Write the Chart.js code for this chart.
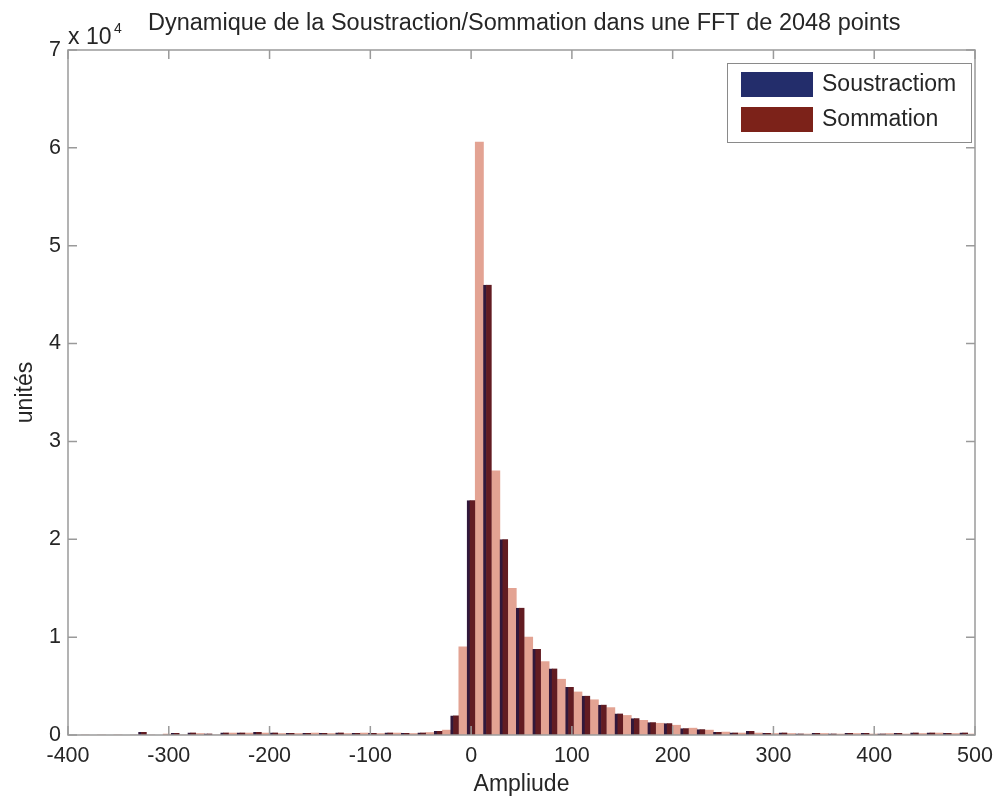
<!DOCTYPE html>
<html>
<head>
<meta charset="utf-8">
<script src="https://cdn.jsdelivr.net/npm/chart.js@4"></script>
<style>
  html, body { margin: 0; padding: 0; background: #fff; }
  #wrap { position: relative; width: 1007px; height: 798px; }
</style>
</head>
<body>
<div id="wrap"><canvas id="fftchart"></canvas></div>
<script>
// bin centres (amplitude) of the histogram groups
var binCenters = [
  -387.1, -370.8, -354.5, -338.2, -321.9, -305.6, -289.3, -273.0, -256.7, -240.4,
  -224.1, -207.8, -191.5, -175.2, -158.9, -142.6, -126.3, -110.0, -93.7, -77.4,
  -61.1, -44.8, -28.5, -12.2, 4.1, 20.4, 36.7, 53.0, 69.3, 85.6,
  101.9, 118.2, 134.5, 150.8, 167.1, 183.4, 199.7, 216.0, 232.3, 248.6,
  264.9, 281.2, 297.5, 313.8, 330.1, 346.4, 362.7, 379.0, 395.3, 411.6,
  427.9, 444.2, 460.5, 476.8, 493.1
];

// counts per bin
var soustractiom = [
  0, 0, 0, 0, 300, 0, 200, 250, 150, 250,
  250, 300, 250, 200, 200, 200, 250, 200, 200, 250,
  200, 250, 400, 2000, 24000, 46000, 20000, 13000, 8800, 6800,
  4900, 4000, 3100, 2200, 1700, 1300, 1200, 700, 600, 300,
  250, 400, 200, 250, 150, 200, 150, 200, 200, 150,
  200, 250, 250, 200, 250
];
var sommation = [
  0, 0, 0, 0, 0, 100, 0, 150, 0, 200,
  200, 200, 150, 150, 200, 150, 150, 200, 150, 200,
  150, 250, 500, 9000, 60600, 27000, 15000, 10000, 7500, 5700,
  4400, 3600, 2800, 2000, 1500, 1200, 1000, 700, 500, 300,
  200, 200, 150, 150, 100, 150, 100, 150, 100, 150,
  100, 150, 200, 150, 100
];

var seriesNames = ['Soustractiom', 'Sommation'];
var legendColors = ['#232d6b', '#7c2219'];
var xTicks = [-400, -300, -200, -100, 0, 100, 200, 300, 400, 500];
var chartTitle = 'Dynamique de la Soustraction/Sommation dans une FFT de 2048 points';

var textColor = '#262626';
var axisColor = '#9a9a9a';
var fontFamily = '"Liberation Sans", Arial, Helvetica, sans-serif';

function toPoints(values) {
  return values.map(function (v, i) { return { x: binCenters[i], y: v }; });
}

// box, inward ticks, title, exponent label and legend, MATLAB style
var axesDecor = {
  id: 'axesDecor',
  afterDraw: function (chart) {
    var ctx = chart.ctx;
    var area = chart.chartArea;
    var xs = chart.scales.x;
    var ys = chart.scales.y;
    var tick = 9;

    ctx.save();
    ctx.strokeStyle = axisColor;
    ctx.lineWidth = 1.5;
    ctx.strokeRect(area.left, area.top, area.right - area.left, area.bottom - area.top);

    ctx.beginPath();
    xTicks.forEach(function (t) {
      var px = xs.getPixelForValue(t);
      ctx.moveTo(px, area.bottom);
      ctx.lineTo(px, area.bottom - tick);
      ctx.moveTo(px, area.top);
      ctx.lineTo(px, area.top + tick);
    });
    for (var v = 0; v <= 70000; v += 10000) {
      var py = ys.getPixelForValue(v);
      ctx.moveTo(area.left, py);
      ctx.lineTo(area.left + tick, py);
      ctx.moveTo(area.right, py);
      ctx.lineTo(area.right - tick, py);
    }
    ctx.stroke();

    // title and multiplier
    ctx.fillStyle = textColor;
    ctx.textBaseline = 'alphabetic';
    ctx.textAlign = 'left';
    ctx.font = '23.5px ' + fontFamily;
    ctx.fillText(chartTitle, 148, 30);
    ctx.font = '23px ' + fontFamily;
    ctx.fillText('x 10', 68, 44);
    ctx.font = '14px ' + fontFamily;
    ctx.fillText('4', 114, 33);

    // legend box
    var lx = 727, ly = 63, lw = 244, lh = 79;
    ctx.fillStyle = '#ffffff';
    ctx.fillRect(lx, ly, lw, lh);
    ctx.strokeStyle = '#8a8a8a';
    ctx.lineWidth = 1;
    ctx.strokeRect(lx + 0.5, ly + 0.5, lw, lh);
    ctx.font = '23px ' + fontFamily;
    ctx.textBaseline = 'middle';
    chart.data.datasets.forEach(function (ds, i) {
      var ry = ly + 9 + i * 35;
      ctx.fillStyle = legendColors[i];
      ctx.fillRect(lx + 14, ry, 72, 25);
      ctx.fillStyle = textColor;
      ctx.fillText(ds.label, lx + 95, ry + 13);
    });
    ctx.restore();
  }
};

var canvas = document.getElementById('fftchart');

new Chart(canvas, {
  type: 'bar',
  plugins: [axesDecor],
  data: {
    datasets: [
      {
        label: seriesNames[0],
        data: toPoints(soustractiom),
        backgroundColor: '#621c22',
        borderColor: '#31183b',
        borderWidth: { left: 3, right: 0, top: 0, bottom: 0 },
        borderSkipped: false
      },
      {
        label: seriesNames[1],
        data: toPoints(sommation),
        backgroundColor: '#e3a393',
        borderWidth: 0
      }
    ]
  },
  options: {
    responsive: true,
    maintainAspectRatio: false,
    animation: false,
    events: [],
    layout: { padding: { top: 50, right: 32, bottom: 0, left: 0 } },
    datasets: {
      bar: { categoryPercentage: 1.0, barPercentage: 1.0, grouped: true }
    },
    plugins: {
      legend: { display: false },
      title: { display: false },
      tooltip: { enabled: false }
    },
    scales: {
      x: {
        type: 'linear',
        min: -400,
        max: 500,
        offset: false,
        grid: { display: false, drawTicks: false },
        border: { display: false },
        afterBuildTicks: function (scale) {
          scale.ticks = xTicks.map(function (t) { return { value: t }; });
        },
        afterFit: function (scale) { scale.height = 63; },
        ticks: {
          color: textColor,
          font: { family: fontFamily, size: 21.5 },
          padding: 8,
          maxRotation: 0,
          autoSkip: false
        },
        title: {
          display: true,
          text: 'Ampliude',
          color: textColor,
          font: { family: fontFamily, size: 23 },
          padding: { top: 0, bottom: 0 }
        }
      },
      y: {
        min: 0,
        max: 70000,
        grid: { display: false, drawTicks: false },
        border: { display: false },
        afterFit: function (scale) { scale.width = 68; },
        ticks: {
          stepSize: 10000,
          color: textColor,
          font: { family: fontFamily, size: 21.5 },
          padding: 7,
          callback: function (v) { return String(v / 10000); }
        },
        title: {
          display: true,
          text: 'unités',
          color: textColor,
          font: { family: fontFamily, size: 23 },
          padding: { top: 12, bottom: 0 }
        }
      }
    }
  }
});
</script>
</body>
</html>
